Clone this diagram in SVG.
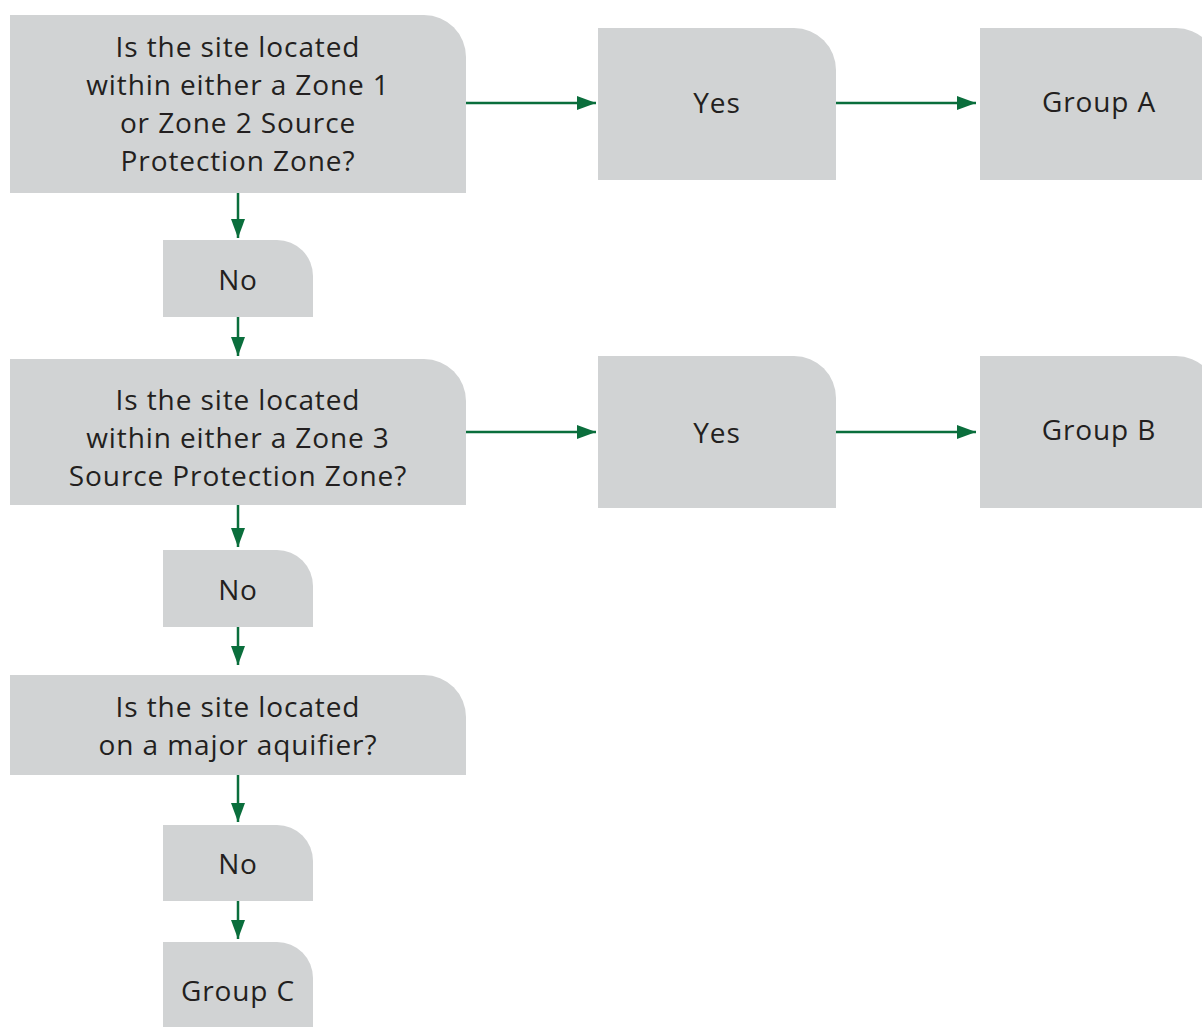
<svg xmlns="http://www.w3.org/2000/svg" width="1202" height="1027" viewBox="0 0 1202 1027">
<style>
.box{fill:#d1d3d4;}
.t{font-family:"Open Sans","Noto Sans",sans-serif;font-size:28px;letter-spacing:0.9px;fill:#231f20;text-anchor:middle;dominant-baseline:central;}
.c{stroke:#0a6e3c;stroke-width:2.5;fill:none;marker-end:url(#ah);}
</style>
<defs>
<marker id="ah" markerUnits="userSpaceOnUse" markerWidth="20" markerHeight="16" refX="19" refY="7" orient="auto">
<path d="M0,0 L19,7 L0,14 Z" fill="#0a6e3c"/>
</marker>
</defs>
<rect width="1202" height="1027" fill="#ffffff"/>
<g id="connectors">
<line class="c" x1="466" y1="103" x2="596" y2="103"/>
<line class="c" x1="836" y1="103" x2="976" y2="103"/>
<line class="c" x1="238" y1="193" x2="238" y2="238"/>
<line class="c" x1="238" y1="317" x2="238" y2="356"/>
<line class="c" x1="466" y1="432" x2="596" y2="432"/>
<line class="c" x1="836" y1="432" x2="976" y2="432"/>
<line class="c" x1="238" y1="505" x2="238" y2="547"/>
<line class="c" x1="238" y1="627" x2="238" y2="665"/>
<line class="c" x1="238" y1="775" x2="238" y2="822"/>
<line class="c" x1="238" y1="901" x2="238" y2="939"/>
</g>
<g id="q1">
<path class="box" d="M10,15 H424 A42,42 0 0 1 466,57 V193 H10 Z"/>
<text class="t" x="238" y="46">Is the site located</text>
<text class="t" x="238" y="84">within either a Zone 1</text>
<text class="t" x="238" y="122">or Zone 2 Source</text>
<text class="t" x="238" y="160">Protection Zone?</text>
</g>
<g id="yes1">
<path class="box" d="M598,28 H794 A42,42 0 0 1 836,70 V180 H598 Z"/>
<text class="t" x="717" y="102">Yes</text>
</g>
<g id="groupA">
<path class="box" d="M980,28 H1176 A42,42 0 0 1 1218,70 V180 H980 Z"/>
<text class="t" x="1099" y="101">Group A</text>
</g>
<g id="no1">
<path class="box" d="M163,240 H277 A36,36 0 0 1 313,276 V317 H163 Z"/>
<text class="t" x="238" y="279">No</text>
</g>
<g id="q2">
<path class="box" d="M10,359 H424 A42,42 0 0 1 466,401 V505 H10 Z"/>
<text class="t" x="238" y="399">Is the site located</text>
<text class="t" x="238" y="437">within either a Zone 3</text>
<text class="t" x="238" y="475">Source Protection Zone?</text>
</g>
<g id="yes2">
<path class="box" d="M598,356 H794 A42,42 0 0 1 836,398 V508 H598 Z"/>
<text class="t" x="717" y="432">Yes</text>
</g>
<g id="groupB">
<path class="box" d="M980,356 H1176 A42,42 0 0 1 1218,398 V508 H980 Z"/>
<text class="t" x="1099" y="429">Group B</text>
</g>
<g id="no2">
<path class="box" d="M163,550 H277 A36,36 0 0 1 313,586 V627 H163 Z"/>
<text class="t" x="238" y="589">No</text>
</g>
<g id="q3">
<path class="box" d="M10,675 H424 A42,42 0 0 1 466,717 V775 H10 Z"/>
<text class="t" x="238" y="706">Is the site located</text>
<text class="t" x="238" y="744">on a major aquifier?</text>
</g>
<g id="no3">
<path class="box" d="M163,825 H277 A36,36 0 0 1 313,861 V901 H163 Z"/>
<text class="t" x="238" y="863">No</text>
</g>
<g id="groupC">
<path class="box" d="M163,942 H277 A36,36 0 0 1 313,978 V1040 H163 Z"/>
<text class="t" x="238" y="990">Group C</text>
</g>
</svg>
